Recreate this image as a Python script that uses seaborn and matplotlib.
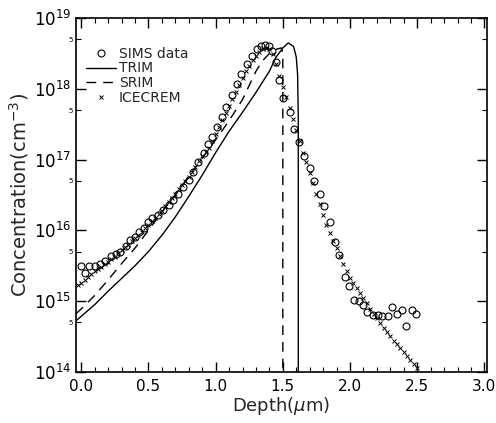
import numpy as np
import pandas as pd
import seaborn as sns
import matplotlib.pyplot as plt
from matplotlib.ticker import MultipleLocator, LogLocator, FuncFormatter

# SIMS measurement (depth in um, log10 concentration)
sims_depth = [0.00, 0.03, 0.06, 0.10, 0.14, 0.18, 0.22, 0.26, 0.29, 0.33, 0.36, 0.40,
              0.43, 0.47, 0.50, 0.53, 0.57, 0.61, 0.65, 0.68, 0.72, 0.76, 0.80, 0.83,
              0.87, 0.91, 0.94, 0.97, 1.01, 1.05, 1.08, 1.12, 1.16, 1.19, 1.23, 1.27,
              1.31, 1.34, 1.37, 1.40, 1.42, 1.45, 1.47, 1.50, 1.55, 1.58, 1.62, 1.66,
              1.70, 1.73, 1.78, 1.81, 1.85, 1.89, 1.92, 1.96, 1.99, 2.03, 2.07, 2.10,
              2.13, 2.17, 2.21, 2.24, 2.28, 2.31, 2.35, 2.39, 2.42, 2.46, 2.49]
sims_log = [15.50, 15.40, 15.49, 15.49, 15.53, 15.57, 15.64, 15.66, 15.70, 15.78, 15.86, 15.90,
            15.98, 16.04, 16.12, 16.17, 16.22, 16.29, 16.36, 16.43, 16.52, 16.62, 16.71, 16.83,
            16.97, 17.10, 17.22, 17.32, 17.46, 17.60, 17.74, 17.91, 18.07, 18.21, 18.35, 18.47,
            18.57, 18.61, 18.62, 18.61, 18.54, 18.38, 18.12, 17.87, 17.68, 17.43, 17.25, 17.05,
            16.88, 16.70, 16.52, 16.34, 16.12, 15.83, 15.65, 15.34, 15.22, 15.02, 15.00, 14.95,
            14.84, 14.80, 14.81, 14.79, 14.79, 14.92, 14.82, 14.87, 14.65, 14.88, 14.82]

# TRIM simulation
trim_depth = [-0.04, 0.10, 0.20, 0.30, 0.40, 0.50, 0.60, 0.70, 0.80, 0.90, 1.00, 1.10,
              1.20, 1.30, 1.40, 1.45, 1.50, 1.54, 1.58, 1.60, 1.61, 1.615, 1.615]
trim_log = [14.72, 14.95, 15.14, 15.32, 15.50, 15.70, 15.93, 16.19, 16.48, 16.78, 17.10, 17.40,
            17.67, 17.95, 18.25, 18.45, 18.58, 18.65, 18.60, 18.45, 18.20, 17.60, 13.90]

# SRIM simulation
srim_depth = [-0.04, 0.00, 0.10, 0.20, 0.30, 0.40, 0.50, 0.60, 0.70, 0.80, 0.90, 1.00,
              1.10, 1.20, 1.25, 1.30, 1.35, 1.40, 1.45, 1.49, 1.50, 1.50]
srim_log = [14.82, 14.89, 15.08, 15.30, 15.53, 15.75, 16.00, 16.26, 16.50, 16.76, 17.02, 17.28,
            17.55, 17.85, 18.05, 18.25, 18.40, 18.50, 18.56, 18.58, 18.50, 13.90]

# ICECREM simulation
ice_depth = [-0.025, 0.000, 0.025, 0.050, 0.075, 0.100, 0.125, 0.150, 0.175, 0.200,
             0.225, 0.250, 0.275, 0.300, 0.325, 0.350, 0.375, 0.400, 0.425, 0.450,
             0.475, 0.500, 0.525, 0.550, 0.575, 0.600, 0.625, 0.650, 0.675, 0.700,
             0.725, 0.750, 0.775, 0.800, 0.825, 0.850, 0.875, 0.900, 0.925, 0.950,
             0.975, 1.000, 1.025, 1.050, 1.075, 1.100, 1.125, 1.150, 1.175, 1.200,
             1.225, 1.250, 1.275, 1.300, 1.325, 1.350, 1.375, 1.400, 1.425, 1.450,
             1.475, 1.500, 1.525, 1.550, 1.575, 1.600, 1.625, 1.650, 1.675, 1.700,
             1.725, 1.750, 1.775, 1.800, 1.825, 1.850, 1.875, 1.900, 1.925, 1.950,
             1.975, 2.000, 2.025, 2.050, 2.075, 2.100, 2.125, 2.150, 2.175, 2.200,
             2.225, 2.250, 2.275, 2.300, 2.325, 2.350, 2.375, 2.400, 2.425, 2.450,
             2.475, 2.500]
ice_log = [15.23, 15.26, 15.30, 15.34, 15.38, 15.42, 15.45, 15.48, 15.52, 15.55,
           15.59, 15.63, 15.68, 15.72, 15.76, 15.80, 15.85, 15.89, 15.94, 15.98,
           16.03, 16.08, 16.13, 16.18, 16.23, 16.28, 16.34, 16.40, 16.46, 16.52,
           16.58, 16.64, 16.70, 16.76, 16.83, 16.90, 16.98, 17.05, 17.11, 17.17,
           17.26, 17.36, 17.46, 17.56, 17.66, 17.76, 17.86, 17.96, 18.06, 18.16,
           18.25, 18.33, 18.41, 18.47, 18.52, 18.56, 18.58, 18.57, 18.50, 18.35,
           18.18, 18.03, 17.88, 17.73, 17.58, 17.42, 17.26, 17.10, 16.96, 16.81,
           16.67, 16.52, 16.37, 16.22, 16.08, 15.96, 15.85, 15.75, 15.64, 15.53,
           15.43, 15.33, 15.25, 15.18, 15.11, 15.04, 14.97, 14.89, 14.82, 14.76,
           14.69, 14.62, 14.56, 14.50, 14.44, 14.39, 14.33, 14.28, 14.22, 14.17,
           14.11, 14.06]

sims = pd.DataFrame({'depth': sims_depth, 'conc': 10 ** np.array(sims_log)})
trim = pd.DataFrame({'depth': trim_depth, 'conc': 10 ** np.array(trim_log)})
srim = pd.DataFrame({'depth': srim_depth, 'conc': 10 ** np.array(srim_log)})
ice = pd.DataFrame({'depth': ice_depth, 'conc': 10 ** np.array(ice_log)})

sns.set_style('ticks')
plt.rcParams['font.family'] = ['DejaVu Sans']

fig = plt.figure(figsize=(4.96, 4.23), dpi=100)
ax = fig.add_axes([0.153, 0.121, 0.829, 0.836])

sns.lineplot(data=sims, x='depth', y='conc', ax=ax, estimator=None, sort=False,
             ls='', marker='o', ms=5, mfc='none', mec='black', mew=0.8, label='SIMS data')
sns.lineplot(data=trim, x='depth', y='conc', ax=ax, estimator=None, sort=False,
             color='black', lw=1.0, label='TRIM')
sns.lineplot(data=srim, x='depth', y='conc', ax=ax, estimator=None, sort=False,
             color='black', lw=1.0, dashes=(7, 5), label='SRIM')
sns.lineplot(data=ice, x='depth', y='conc', ax=ax, estimator=None, sort=False,
             ls='', marker='x', ms=3, mec='black', mew=0.7, label='ICECREM')

ax.set_yscale('log')
ax.set_xlim(-0.04, 3.02)
ax.set_ylim(1e14, 1e19)
ax.xaxis.set_major_locator(MultipleLocator(0.5))
ax.xaxis.set_minor_locator(MultipleLocator(0.1))
ax.xaxis.set_major_formatter(FuncFormatter(lambda v, p: '%.1f' % v))
ax.yaxis.set_major_locator(LogLocator(base=10, numticks=10))
ax.yaxis.set_minor_locator(LogLocator(base=10, subs=[5.0], numticks=10))
ax.yaxis.set_minor_formatter(FuncFormatter(lambda v, p: '5'))

ax.tick_params(which='both', direction='in', top=True, right=True, colors='black')
ax.tick_params(which='major', length=7, width=1.0, labelsize=12)
ax.tick_params(which='minor', length=3.5, width=0.8)
ax.tick_params(axis='y', which='minor', labelsize=5, pad=2)
ax.tick_params(axis='x', which='major', labelsize=11, pad=5)
for s in ax.spines.values():
    s.set_linewidth(1.2)
    s.set_color('black')

ax.set_xlabel('Depth($\\mu$m)', fontsize=13, labelpad=1)
ax.set_ylabel('Concentration(cm$^{-3}$)', fontsize=14, labelpad=2)

ax.legend(loc='upper left', bbox_to_anchor=(0.01, 0.935), frameon=False, fontsize=10,
          handlelength=2.2, handletextpad=0.2, labelspacing=0.05, borderaxespad=0)

fig.savefig('out.png', dpi=100)
